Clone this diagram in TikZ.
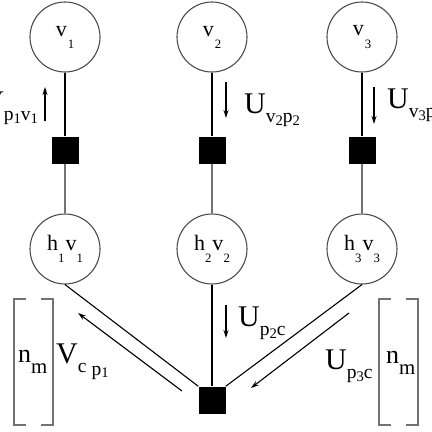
\documentclass[tikz,border=0pt]{standalone}
\usepackage{fontspec}
\setmainfont{Liberation Serif}
\usetikzlibrary{arrows.meta}
\newcommand\lo[1]{\raisebox{-0.55em}{\scalebox{0.58}{#1}}}
\newcommand\slo[1]{\raisebox{-0.32em}{\scalebox{0.65}{#1}}}
\newcommand\ssub[1]{\raisebox{-0.15em}{\scalebox{0.75}{#1}}}
\begin{document}
\begin{tikzpicture}[x=1pt,y=-1pt,
  circ/.style={circle,draw=black!70,line width=1.1pt,minimum size=70pt,inner sep=0pt,font=\fontsize{22}{22}\selectfont},
  fac/.style={fill=black,minimum size=27pt,inner sep=0pt},
  wire/.style={line width=1.1pt},
  gwire/.style={line width=1.1pt,draw=black!55},
  flow/.style={line width=1.1pt,-{Stealth[length=8pt,width=5pt]}},
  big/.style={font=\fontsize{30}{30}\selectfont,inner sep=0pt},
  nm/.style={font=\fontsize{26}{26}\selectfont,inner sep=0pt},
  brk/.style={draw=black!55,line width=1.6pt}]
\useasboundingbox (0,0) rectangle (432,432);
% variable nodes
\node[circ] (v1) at (65,37) {v\kern1pt\lo{1}};
\node[circ] (v2) at (212,37) {v\kern1pt\lo{2}};
\node[circ] (v3) at (362,37) {v\kern1pt\lo{3}};
% factor nodes
\node[fac] (f1) at (65,150) {};
\node[fac] (f2) at (212,150) {};
\node[fac] (f3) at (362,150) {};
% hidden nodes
\node[circ] (h1) at (65,249) {h\lo{1}\kern1pt v\lo{1}};
\node[circ] (h2) at (212,249) {h\lo{2}\kern1pt v\lo{2}};
\node[circ] (h3) at (362,249) {h\lo{3}\kern1pt v\lo{3}};
% central factor
\node[fac] (fc) at (212,400) {};
% wires
\draw[wire] (v1) -- (f1);
\draw[wire] (v2) -- (f2);
\draw[wire] (v3) -- (f3);
\draw[gwire] (f1) -- (h1);
\draw[gwire] (f2) -- (h2);
\draw[gwire] (f3) -- (h3);
\draw[wire] (h1.south) -- (fc.north west);
\draw[wire] (h2) -- (fc);
\draw[wire] (h3.south) -- (fc.north east);
% message arrows
\coordinate (a1s) at (45,121); \coordinate (a1e) at (45,87);
\coordinate (a2s) at (226,82); \coordinate (a2e) at (226,118);
\coordinate (a3s) at (374,87); \coordinate (a3e) at (374,124);
\coordinate (a4s) at (226,305); \coordinate (a4e) at (226,338);
\coordinate (a5s) at (182,391); \coordinate (a5e) at (78,313);
\coordinate (a6s) at (349,313); \coordinate (a6e) at (251,388);
\draw[flow] (a1s) -- (a1e);
\draw[flow] (a2s) -- (a2e);
\draw[flow] (a3s) -- (a3e);
\draw[flow] (a4s) -- (a4e);
\draw[flow] (a5s) -- (a5e);
\draw[flow] (a6s) -- (a6e);
% message labels
\node[big,anchor=base west] (l1) at (-18,111) {V\slo{p\ssub{1}v\ssub{1}}};
\node[big,anchor=base west] (l2) at (244,113) {U\slo{v\ssub{2}p\ssub{2}}};
\node[big,anchor=base west] (l3) at (387,108) {U\slo{v\ssub{3}p\ssub{3}}};
\node[big,anchor=base west] (l4) at (238,326) {U\slo{p\ssub{2}c}};
\node[big,anchor=base west] (l5) at (56,363) {V\slo{c}\,\raisebox{-0.4em}{\scalebox{0.65}{p\ssub{1}}}};
\node[big,anchor=base west] (l6) at (325,369) {U\slo{p\ssub{3}c}};
% brackets
\draw[brk] (26,299) -- (14,299) -- (14,425) -- (26,425);
\draw[brk] (41,299) -- (53,299) -- (53,425) -- (41,425);
\draw[brk] (391,299) -- (379,299) -- (379,425) -- (391,425);
\draw[brk] (406,299) -- (418,299) -- (418,425) -- (406,425);
\node[nm,anchor=base west] (n1) at (18,362) {n\raisebox{-0.45em}{\scalebox{0.8}{m}}};
\node[nm,anchor=base west] (n2) at (386,363) {n\raisebox{-0.45em}{\scalebox{0.8}{m}}};
\end{tikzpicture}
\end{document}
